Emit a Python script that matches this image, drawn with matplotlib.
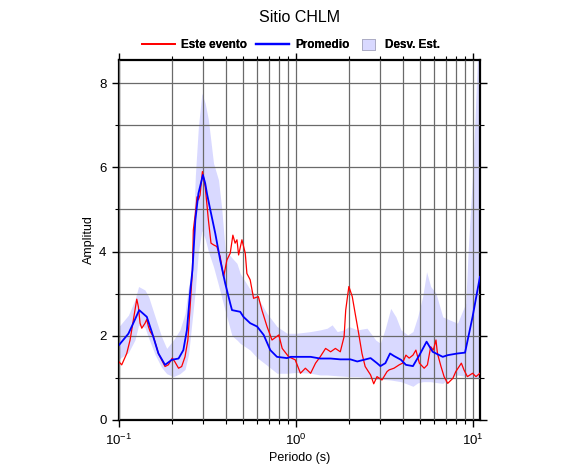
import matplotlib
matplotlib.use("Agg")
import matplotlib.pyplot as plt
from matplotlib.ticker import LogLocator, MultipleLocator, NullFormatter
from matplotlib.patches import Patch
from matplotlib.lines import Line2D

plt.rcParams['font.family'] = ['Liberation Sans', 'DejaVu Sans']

# Promedio (mean)
prom_T = [0.100, 0.113, 0.122, 0.130, 0.1436, 0.153, 0.167, 0.182, 0.199, 0.217, 0.231,
          0.242, 0.253, 0.260, 0.270, 0.281, 0.298, 0.307, 0.314, 0.328, 0.350, 0.373,
          0.398, 0.425, 0.435, 0.484, 0.505, 0.551, 0.603, 0.657, 0.716, 0.781, 0.890,
          0.935, 1.06, 1.21, 1.37, 1.57, 1.78, 2.03, 2.22, 2.64, 2.87, 3.00, 3.20, 3.40,
          3.58, 3.92, 4.18, 4.58, 4.98, 5.47, 5.92, 6.75, 7.20, 8.18, 9.02, 9.95, 10.95]
prom_A = [1.78, 2.05, 2.35, 2.61, 2.45, 2.10, 1.58, 1.31, 1.43, 1.46, 1.66,
          2.14, 3.09, 3.56, 4.75, 5.38, 5.82, 5.62, 5.38, 4.99, 4.43, 3.80,
          3.25, 2.77, 2.61, 2.57, 2.45, 2.30, 2.22, 2.02, 1.66, 1.50, 1.47,
          1.50, 1.50, 1.50, 1.46, 1.46, 1.44, 1.44, 1.39, 1.47, 1.35, 1.28, 1.35, 1.58,
          1.52, 1.43, 1.31, 1.28, 1.54, 1.86, 1.62, 1.50, 1.54, 1.58, 1.60, 2.45, 3.40]

# Este evento (this event)
ev_T = [0.100, 0.1036, 0.1106, 0.1155, 0.1206, 0.126, 0.1287, 0.1315, 0.1345, 0.1404,
        0.1435, 0.1466, 0.150, 0.1565, 0.167, 0.182, 0.190, 0.200, 0.207, 0.217, 0.226,
        0.236, 0.245, 0.253, 0.260, 0.263, 0.270, 0.276, 0.281, 0.287, 0.296, 0.307,
        0.320, 0.331, 0.342, 0.357, 0.373, 0.390, 0.407, 0.425, 0.440, 0.453, 0.464,
        0.474, 0.495, 0.517, 0.528, 0.551, 0.576, 0.613, 0.642, 0.686, 0.732, 0.800,
        0.836, 0.910, 0.99, 1.06, 1.13, 1.21, 1.29, 1.37, 1.47, 1.57, 1.67, 1.78, 1.87,
        1.91, 1.99, 2.08, 2.16, 2.26, 2.36, 2.46, 2.64, 2.75, 2.87, 3.06, 3.27, 3.36,
        3.58, 3.83, 4.00, 4.18, 4.36, 4.58, 4.76, 4.98, 5.30, 5.53, 5.77, 5.97, 6.18,
        6.30, 6.60, 6.87, 7.20, 7.70, 8.00, 8.60, 8.90, 9.30, 9.95, 10.4, 10.95]
ev_A = [1.38, 1.31, 1.58, 1.90, 2.38, 2.87, 2.69, 2.30, 2.18, 2.30,
        2.39, 2.22, 2.10, 1.98, 1.58, 1.27, 1.31, 1.47, 1.38, 1.23, 1.27,
        1.50, 1.90, 2.77, 3.56, 4.51, 4.90, 5.30, 5.23, 5.34, 5.90, 5.54,
        4.75, 4.20, 4.16, 4.12, 3.88, 3.40, 3.80, 3.96, 4.39, 4.20, 4.28,
        3.92, 4.28, 3.96, 3.48, 3.33, 2.89, 2.93, 2.61, 2.22, 1.90, 2.02,
        1.70, 1.50, 1.43, 1.11, 1.23, 1.11, 1.35, 1.50, 1.70, 1.62, 1.70, 1.62, 1.98,
        2.61, 3.17, 2.93, 2.53, 2.06, 1.58, 1.27, 1.07, 0.86, 1.03, 0.95, 1.15, 1.19,
        1.23, 1.31, 1.35, 1.54, 1.47, 1.54, 1.66, 1.35, 1.23, 1.31, 1.74, 1.66, 1.90,
        1.58, 1.27, 1.03, 0.87, 0.99, 1.15, 1.35, 1.19, 1.03, 1.11, 1.03, 1.11]

# Desv. Est. band
band_T = [0.100, 0.113, 0.123, 0.129, 0.140, 0.147, 0.160, 0.174, 0.186, 0.203, 0.221,
          0.236, 0.247, 0.258, 0.270, 0.281, 0.294, 0.307, 0.320, 0.342, 0.365, 0.381,
          0.398, 0.435, 0.464, 0.484, 0.551, 0.603, 0.686, 0.781, 0.890, 1.01, 1.21,
          1.37, 1.50, 1.60, 1.71, 1.87, 1.99, 2.22, 2.52, 2.82, 3.00, 3.20, 3.43, 3.67,
          3.92, 4.28, 4.58, 4.87, 5.20, 5.47, 5.77, 6.18, 6.75, 7.35, 8.18, 9.10, 9.40,
          10.0, 10.6, 10.95]
band_hi = [2.22, 2.49, 2.85, 3.17, 3.09, 2.93, 2.45, 1.98, 1.70, 1.90, 2.14,
           2.53, 3.17, 3.50, 5.80, 6.97, 7.76, 7.52, 7.13, 6.10, 5.70, 5.00,
           4.04, 3.85, 3.72, 3.48, 3.10, 2.93, 2.53, 2.22, 2.06, 2.06, 2.10,
           2.14, 2.18, 2.26, 2.10, 2.14, 2.22, 2.14, 2.18, 1.90, 1.82, 2.18, 2.65, 2.45,
           2.14, 2.02, 2.10, 2.45, 2.93, 3.52, 3.17, 3.01, 2.45, 2.38, 2.30, 2.77, 4.04,
           6.00, 8.55, 9.50]
band_lo = [1.45, 1.60, 1.90, 2.25, 2.20, 1.95, 1.55, 1.25, 1.10, 1.03, 1.10,
           1.20, 1.55, 2.30, 3.09, 4.00, 4.50, 4.30, 4.00, 3.64, 3.20, 2.90,
           2.60, 2.00, 1.90, 1.82, 1.66, 1.48, 1.30, 1.11, 1.11, 1.13, 1.11,
           1.07, 1.07, 1.06, 1.05, 1.04, 1.03, 1.03, 1.01, 0.96, 0.97, 0.96, 0.95, 0.93,
           0.91, 0.85, 0.80, 0.88, 0.91, 0.91, 0.91, 0.89, 0.87, 0.99, 1.07, 1.03, 1.02,
           0.99, 1.00, 1.05]

x_ticks = [0.1, 1, 10]
y_major = [0, 2, 4, 6, 8]
legend_labels = ['Este evento', 'Promedio', 'Desv. Est.']

BAND_COLOR = (217/255, 217/255, 1.0)

fig = plt.figure(figsize=(5.86, 4.75), dpi=100)
ax = fig.add_axes([119/586, 55/475, 361/586, 360/475])

ax.fill_between(band_T, band_lo, band_hi, color=BAND_COLOR, lw=0, zorder=1)
ax.plot(ev_T, ev_A, color='#ff0000', lw=0.9, zorder=3)
ax.plot(prom_T, prom_A, color='#0000ff', lw=1.3, zorder=4)

ax.set_xscale('log')
ax.set_xlim(0.1, 10.96)
ax.set_ylim(0, 8.55)
ax.set_xticks(x_ticks)
ax.xaxis.set_minor_locator(LogLocator(base=10, subs=range(2, 10)))
ax.xaxis.set_minor_formatter(NullFormatter())
ax.set_yticks(y_major)
ax.yaxis.set_minor_locator(MultipleLocator(1))

ax.grid(True, which='both', axis='both', color='#6a6a6a', lw=0.9)
for gl in ax.get_xgridlines() + ax.get_ygridlines():
    gl.set_zorder(2)
ax.set_axisbelow(False)

ax.tick_params(which='major', direction='out', length=5, width=1, labelsize=9.5,
               top=True, right=True, pad=4)
ax.tick_params(which='minor', direction='out', length=3, width=0.8, top=True, right=True)
for s in ax.spines.values():
    s.set_linewidth(1.6)

ax.set_xlabel('Periodo (s)', fontsize=9, labelpad=3)
ax.set_ylabel('Amplitud', fontsize=9, labelpad=3)

fig.text((119 + 480) / 2 / 586, 1 - 18/475, 'Sitio CHLM', ha='center', va='center',
         fontsize=11.5)

# legend: three single-entry legends placed at measured spots
leg_y = 1 - 45/475
specs = [
    (Line2D([], [], color='#ff0000', lw=1.3), legend_labels[0], 142, 2.8, 0.7, 0.5),
    (Line2D([], [], color='#0000ff', lw=1.6), legend_labels[1], 256, 2.8, 0.7, 0.5),
    (Patch(facecolor=BAND_COLOR, edgecolor='#a8a8c0', lw=0.6), legend_labels[2], 362,
     1.1, 1.1, 0.85),
]
for h, lab, xpx, hl, hh, tp in specs:
    lg = fig.legend([h], [lab], loc='center left', bbox_to_anchor=(xpx/586, leg_y),
                    frameon=False, prop={'weight': 'bold', 'size': 8.5},
                    handlelength=hl, handleheight=hh, handletextpad=tp,
                    borderpad=0, borderaxespad=0)
    fig.add_artist(lg)

fig.savefig('out.png', dpi=100)
